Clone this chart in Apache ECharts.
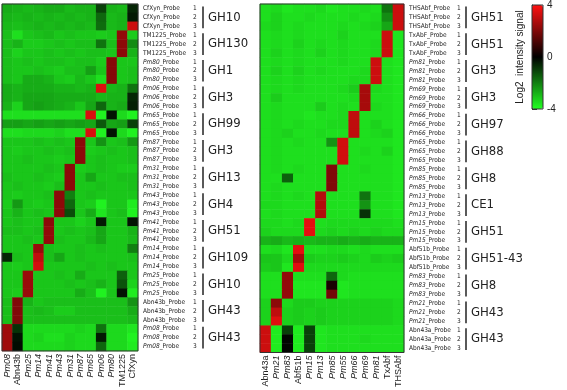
<!DOCTYPE html>
<html>
<head>
<meta charset="utf-8">
<script src="https://cdn.jsdelivr.net/npm/echarts@6/dist/echarts.min.js"></script>
<style>
  html, body { margin: 0; padding: 0; background: #fff; }
  #chart { width: 567px; height: 390px; }
</style>
</head>
<body>
<div id="chart"></div>
<script>
// left panel
const leftCols = ['Pm08', 'Abn43b', 'Pm25', 'Pm14', 'Pm41', 'Pm43', 'Pm31', 'Pm87', 'Pm65', 'Pm06', 'Pm80', 'TM1225', 'CfXyn'];
const leftGroups = ['CfXyn', 'TM1225', 'Pm80', 'Pm06', 'Pm65', 'Pm87', 'Pm31', 'Pm43', 'Pm41', 'Pm14', 'Pm25', 'Abn43b', 'Pm08'];
const leftFamilies = ['GH10', 'GH130', 'GH1', 'GH3', 'GH99', 'GH3', 'GH13', 'GH4', 'GH51', 'GH109', 'GH10', 'GH43', 'GH43'];
const leftValues = [
  [-2.7,-2.8,-2.9,-2.8,-2.7,-2.7,-2.9,-2.8,-2.8,-1.0,-2.8,-2.9,-0.6],
  [-2.8,-2.9,-2.8,-2.9,-2.8,-2.9,-2.8,-2.9,-2.8,-1.6,-2.9,-2.8,-0.4],
  [-2.9,-3.0,-2.9,-2.8,-2.9,-2.8,-2.9,-2.8,-2.9,-1.7,-2.9,-2.8,3.2],
  [-3.0,-3.5,-3.1,-3.0,-2.9,-3.1,-3.0,-3.1,-3.1,-3.2,-3.1,2.3,-3.2],
  [-3.0,-2.8,-3.2,-3.2,-3.1,-3.0,-3.1,-3.0,-3.0,-1.8,-3.0,2.2,-2.2],
  [-3.0,-3.3,-3.1,-3.1,-3.0,-3.1,-3.0,-3.1,-3.0,-3.0,-3.1,2.2,-2.8],
  [-3.0,-3.1,-3.0,-3.1,-3.0,-3.0,-3.1,-3.0,-3.0,-3.2,2.1,-3.1,-3.1],
  [-3.0,-3.1,-3.1,-3.0,-3.1,-3.2,-3.0,-3.0,-2.5,-3.1,2.1,-3.1,-3.0],
  [-3.0,-3.1,-2.7,-2.7,-2.8,-3.1,-3.2,-2.9,-3.1,-3.5,2.1,-3.1,-3.0],
  [-2.7,-2.8,-2.7,-2.7,-2.7,-2.8,-2.8,-2.9,-2.8,3.5,-2.9,-2.8,-1.8],
  [-2.7,-2.8,-2.6,-2.6,-2.6,-2.7,-2.7,-2.7,-2.7,-2.9,-2.8,-2.8,-0.6],
  [-2.8,-3.3,-2.6,-2.5,-2.6,-2.7,-2.8,-3.1,-2.6,-1.6,-2.8,-2.7,-0.5],
  [-3.5,-3.5,-3.5,-3.5,-3.5,-3.5,-3.5,-3.5,3.4,-3.8,-0.3,-3.4,-3.8],
  [-2.5,-2.5,-2.6,-2.5,-2.6,-2.5,-2.6,-2.5,-2.6,-1.4,-2.6,-2.5,-1.0],
  [-3.5,-3.5,-3.4,-3.4,-3.4,-3.3,-3.5,-3.5,3.4,-3.8,-0.3,-3.4,-3.8],
  [-3.1,-3.1,-3.1,-3.0,-3.1,-3.0,-3.1,2.2,-3.1,-2.3,-3.1,-3.0,-2.4],
  [-3.1,-3.2,-3.1,-3.1,-3.0,-3.1,-3.0,2.2,-3.2,-3.1,-3.0,-3.1,-3.0],
  [-3.1,-3.1,-3.0,-3.1,-3.1,-3.2,-3.1,2.2,-3.1,-3.0,-3.1,-3.1,-3.0],
  [-3.1,-3.1,-3.1,-3.1,-3.0,-3.1,2.2,-3.2,-3.1,-3.0,-3.1,-3.2,-3.2],
  [-3.0,-3.1,-3.1,-3.0,-3.1,-3.2,2.2,-3.1,-2.6,-3.1,-3.1,-3.0,-3.0],
  [-3.1,-3.0,-3.1,-3.1,-3.2,-3.0,2.2,-3.1,-3.1,-3.0,-3.1,-3.1,-3.0],
  [-3.1,-3.2,-3.1,-3.1,-3.0,2.2,-2.0,-3.1,-3.0,-3.1,-3.1,-3.1,-3.1],
  [-3.2,-2.4,-3.1,-3.2,-3.1,2.2,-1.6,-3.1,-3.2,-3.8,-3.1,-3.1,-3.7],
  [-3.1,-2.8,-3.1,-3.0,-3.1,2.2,-1.2,-3.1,-2.7,-3.6,-3.1,-3.0,-3.8],
  [-3.1,-3.0,-3.1,-3.1,2.2,-3.1,-3.1,-3.3,-3.1,-0.4,-3.1,-3.1,-0.3],
  [-3.0,-3.0,-3.1,-3.0,2.3,-3.1,-3.0,-3.1,-3.0,-2.6,-3.1,-3.1,-2.8],
  [-3.1,-3.1,-3.0,-3.1,2.3,-3.0,-3.1,-3.1,-2.9,-2.6,-3.1,-3.1,-2.9],
  [-3.1,-3.1,-3.1,2.4,-3.0,-3.1,-3.1,-3.0,-3.1,-3.0,-3.1,-3.1,-2.0],
  [-0.6,-3.0,-3.1,3.0,-3.0,-2.6,-3.1,-3.0,-3.1,-3.1,-3.1,-3.1,-3.0],
  [-3.1,-3.2,-3.1,3.3,-3.1,-3.1,-3.1,-3.1,-3.0,-3.1,-3.0,-3.1,-3.1],
  [-3.1,-3.1,2.4,-3.1,-3.1,-3.0,-3.1,-2.7,-3.1,-3.1,-3.1,-1.5,-3.1],
  [-3.1,-3.1,2.4,-3.1,-3.1,-3.1,-3.0,-3.1,-3.0,-2.8,-3.1,-1.3,-3.3],
  [-3.1,-3.2,2.4,-3.1,-3.1,-3.1,-3.1,-2.7,-3.0,-3.8,-3.1,-0.3,-3.7],
  [-3.0,2.0,-2.8,-3.1,-3.0,-3.0,-3.0,-3.0,-3.0,-3.0,-3.0,-3.0,-2.3],
  [-3.0,2.0,-3.0,-2.9,-3.0,-3.2,-3.2,-3.0,-3.0,-3.0,-3.0,-3.0,-2.7],
  [-3.0,2.0,-3.0,-3.0,-3.0,-3.0,-3.0,-3.0,-3.0,-3.0,-3.0,-3.0,-2.9],
  [2.5,-0.8,-3.4,-3.4,-3.4,-3.4,-3.4,-3.3,-3.4,-1.8,-3.4,-3.4,-3.6],
  [2.5,-0.3,-3.4,-3.3,-3.5,-3.5,-3.3,-3.4,-3.4,-0.4,-3.4,-3.4,-3.8],
  [2.5,-0.2,-3.4,-3.4,-3.4,-3.4,-3.3,-3.4,-3.4,-1.6,-3.4,-3.4,-3.7]
];

// right panel
const rightCols = ['Abn43a', 'Pm21', 'Pm83', 'Abf51b', 'Pm15', 'Pm13', 'Pm85', 'Pm55', 'Pm66', 'Pm69', 'Pm81', 'TxAbf', 'THSAbf'];
const rightGroups = ['THSAbf', 'TxAbF', 'Pm81', 'Pm69', 'Pm66', 'Pm65', 'Pm85', 'Pm13', 'Pm15', 'Abf51b', 'Pm83', 'Pm21', 'Abn43a'];
const rightFamilies = ['GH51', 'GH51', 'GH3', 'GH3', 'GH97', 'GH88', 'GH8', 'CE1', 'GH51', 'GH51-43', 'GH8', 'GH43', 'GH43'];
const rightValues = [
  [-3.5,-3.4,-3.6,-3.5,-3.5,-3.4,-3.6,-3.5,-3.5,-3.4,-3.5,-1.8,3.2],
  [-3.5,-3.3,-3.5,-3.5,-3.4,-3.5,-3.5,-3.5,-3.4,-3.5,-3.4,-2.2,3.2],
  [-3.4,-3.3,-3.5,-3.4,-3.5,-3.5,-3.5,-3.4,-3.5,-3.4,-3.3,-2.6,3.2],
  [-3.5,-3.4,-3.5,-3.4,-3.5,-3.5,-3.5,-3.3,-3.5,-3.5,-3.5,3.2,-3.6],
  [-3.5,-3.4,-3.5,-3.3,-3.5,-3.4,-3.5,-3.4,-3.5,-3.5,-3.4,3.2,-3.6],
  [-3.5,-3.3,-3.5,-3.4,-3.5,-3.3,-3.5,-3.4,-3.5,-3.5,-3.4,3.2,-3.6],
  [-3.5,-3.4,-3.5,-3.4,-3.5,-3.5,-3.5,-3.4,-3.5,-3.5,3.2,-3.5,-3.6],
  [-3.5,-3.3,-3.5,-3.3,-3.5,-3.4,-3.5,-3.5,-3.5,-3.4,3.2,-3.5,-3.6],
  [-3.5,-3.4,-3.5,-3.4,-3.5,-3.5,-3.5,-3.5,-3.4,-3.4,3.2,-3.5,-3.6],
  [-3.5,-3.4,-3.5,-3.4,-3.5,-3.5,-3.5,-3.4,-3.2,2.6,-3.4,-3.5,-3.6],
  [-3.5,-3.2,-3.5,-3.5,-3.5,-3.5,-3.5,-3.5,-3.4,2.6,-3.5,-3.5,-3.6],
  [-3.5,-3.4,-3.5,-3.5,-3.5,-3.2,-3.5,-3.4,-3.5,2.6,-3.4,-3.5,-3.6],
  [-3.5,-3.4,-3.5,-3.5,-3.6,-3.5,-3.5,-3.4,3.0,-3.5,-3.5,-3.5,-3.6],
  [-3.5,-3.4,-3.5,-3.4,-3.5,-3.5,-3.4,-3.4,3.0,-3.5,-3.3,-3.5,-3.6],
  [-3.5,-3.4,-3.3,-3.5,-3.5,-3.4,-3.5,-3.5,3.0,-3.5,-3.4,-3.3,-3.6],
  [-3.5,-3.4,-3.5,-3.4,-3.5,-3.5,-2.3,3.3,-3.5,-3.5,-3.5,-3.5,-3.6],
  [-3.5,-3.4,-3.5,-3.5,-3.5,-3.5,-3.5,3.3,-3.5,-3.4,-3.5,-3.3,-3.6],
  [-3.5,-3.4,-3.5,-3.5,-3.5,-3.5,-3.5,3.3,-3.5,-3.5,-3.5,-3.5,-3.6],
  [-3.5,-3.4,-3.5,-3.4,-3.5,-3.5,2.0,-3.5,-3.5,-3.4,-3.5,-3.5,-3.6],
  [-3.5,-3.5,-1.5,-3.5,-3.5,-3.5,2.0,-3.5,-3.5,-3.5,-3.5,-3.5,-3.6],
  [-3.5,-3.4,-3.5,-3.5,-3.5,-3.5,2.0,-3.5,-3.5,-3.5,-3.5,-3.5,-3.6],
  [-3.5,-3.4,-3.5,-3.4,-3.5,2.8,-3.5,-3.5,-3.5,-1.8,-3.5,-3.5,-3.6],
  [-3.4,-3.4,-3.5,-3.5,-3.5,2.8,-3.5,-3.5,-3.5,-2.3,-3.5,-3.5,-3.6],
  [-3.5,-3.4,-3.5,-3.5,-3.5,2.8,-3.5,-3.5,-3.5,-0.8,-3.5,-3.5,-3.6],
  [-3.4,-3.4,-3.5,-3.4,3.6,-3.5,-3.4,-3.4,-3.4,-3.4,-3.4,-3.4,-3.5],
  [-3.3,-3.4,-3.4,-3.4,3.6,-3.4,-3.3,-3.4,-3.3,-3.4,-3.3,-3.4,-3.4],
  [-2.8,-2.7,-2.9,-2.8,-2.9,-2.8,-2.8,-2.7,-2.8,-2.7,-2.8,-2.8,-2.8],
  [-3.5,-3.4,-3.6,3.6,-3.5,-3.5,-3.4,-3.4,-3.5,-3.4,-3.5,-3.5,-3.5],
  [-3.1,-3.1,-3.4,2.6,-3.2,-3.3,-3.3,-3.2,-3.3,-3.4,-3.2,-3.3,-3.2],
  [-3.2,-3.1,-3.6,3.5,-3.4,-3.4,-3.4,-3.4,-3.4,-3.4,-3.4,-3.4,-3.4],
  [-3.5,-3.5,2.3,-3.5,-3.5,-3.5,-1.6,-3.4,-3.5,-3.5,-3.5,-3.5,-3.5],
  [-3.5,-3.5,2.3,-3.6,-3.6,-3.6,0.4,-3.6,-3.5,-3.5,-3.5,-3.5,-3.5],
  [-3.5,-3.5,2.3,-3.6,-3.6,-3.6,1.8,-3.6,-3.5,-3.5,-3.5,-3.5,-3.5],
  [-3.3,2.2,-3.4,-3.2,-3.2,-3.3,-3.3,-3.3,-3.3,-3.3,-3.3,-3.3,-3.4],
  [-3.3,3.0,-3.3,-3.2,-3.3,-3.2,-3.3,-3.3,-3.3,-3.3,-3.3,-3.3,-3.4],
  [-3.3,3.5,-3.3,-3.2,-3.3,-3.2,-3.3,-3.3,-3.3,-3.3,-3.3,-3.3,-3.4],
  [3.2,-3.7,-1.0,-3.7,-1.0,-3.6,-3.5,-3.5,-3.5,-3.5,-3.5,-3.5,-3.5],
  [3.2,-3.7,-0.1,-3.7,-1.0,-3.6,-3.5,-3.5,-3.5,-3.4,-3.5,-3.5,-3.5],
  [3.2,-3.7,-0.1,-3.7,-1.0,-3.6,-3.5,-3.5,-3.5,-3.5,-3.5,-3.5,-3.5]
];

const colorStops = ['#22ff22', '#000000', '#ff1111'];
const scaleTicks = [-4, 0, 4];

const FONT = "'Liberation Sans', Arial, sans-serif";
const NARROW = "'Liberation Sans Narrow', 'DejaVu Sans Condensed', 'Liberation Sans', sans-serif";
const TEXT = '#222';

function probeRows(groups) {
  const rows = [];
  groups.forEach((g) => { for (let k = 1; k <= 3; k++) rows.push(g + '_Probe ' + k); });
  return rows;
}

function cells(values) {
  const out = [];
  values.forEach((row, r) => row.forEach((v, c) => out.push([c, r, v])));
  return out;
}

const isPm = (s) => /^Pm/.test(s);

const probeRich = {
  i: { fontStyle: 'italic', fontSize: 6.5, fontFamily: NARROW, color: TEXT },
  n: { fontSize: 6.5, fontFamily: NARROW, color: TEXT }
};
const colRich = {
  i: { fontStyle: 'italic', fontSize: 9, fontFamily: FONT, color: TEXT },
  n: { fontSize: 9, fontFamily: FONT, color: TEXT }
};

function probeName(v) {
  const name = v.split('_Probe')[0];
  return isPm(name) ? '{i|' + name + '}{n|_Probe}' : '{n|' + name + '_Probe}';
}
function colName(v) {
  return isPm(v) ? '{i|' + v + '}' : '{n|' + v + '}';
}

// vertical bar + family label for each group of three probes
function bracketSeries(gridIdx, families, gap) {
  return {
    type: 'custom',
    coordinateSystem: 'cartesian2d',
    xAxisIndex: gridIdx,
    yAxisIndex: gridIdx * 2,
    clip: false,
    silent: true,
    data: families.map((f, i) => [12, i * 3 + 1]),
    renderItem: function (params, api) {
      const p = api.coord([api.value(0), api.value(1)]);
      const s = api.size([1, 1]);
      const x = p[0] + s[0] / 2 + gap;
      return {
        type: 'group',
        children: [
          {
            type: 'line',
            shape: { x1: x, y1: p[1] - 1.5 * s[1] + 2.5, x2: x, y2: p[1] + 1.5 * s[1] - 2.5 },
            style: { stroke: '#222', lineWidth: 1.5 }
          },
          {
            type: 'text',
            style: {
              text: families[params.dataIndex],
              x: x + 5, y: p[1],
              verticalAlign: 'middle', align: 'left',
              font: '13px ' + NARROW, fill: TEXT
            }
          }
        ]
      };
    }
  };
}

const leftRows = probeRows(leftGroups);
const rightRows = probeRows(rightGroups);

const chart = echarts.init(document.getElementById('chart'), null, { renderer: 'canvas' });

function heatX(gridIndex, cols) {
  return {
    type: 'category', gridIndex: gridIndex, data: cols, position: 'bottom',
    axisLine: { show: false }, axisTick: { show: false }, splitArea: { show: false },
    axisLabel: { rotate: 90, margin: 3, interval: 0, formatter: colName, rich: colRich }
  };
}
function heatY(gridIndex, rows, digitOffset) {
  return [
    {
      type: 'category', gridIndex: gridIndex, data: rows, inverse: true, position: 'right',
      axisLine: { show: false }, axisTick: { show: false },
      axisLabel: { margin: 5, interval: 0, formatter: probeName, rich: probeRich }
    },
    {
      type: 'category', gridIndex: gridIndex, data: rows, inverse: true, position: 'right', offset: digitOffset,
      axisLine: { show: false }, axisTick: { show: false },
      axisLabel: { margin: 5, interval: 0, fontSize: 6.5, fontFamily: NARROW, color: TEXT,
        formatter: (v) => v.slice(-1) }
    }
  ];
}

const option = {
  backgroundColor: '#fff',
  animation: false,
  grid: [
    { left: 2, top: 4, width: 136, height: 349, show: true, z: 10, backgroundColor: 'transparent', borderColor: '#333', borderWidth: 1 },
    { left: 260, top: 4, width: 144, height: 349, show: true, z: 10, backgroundColor: 'transparent', borderColor: '#333', borderWidth: 1 },
    { left: 532, top: 5, width: 11, height: 104, show: true, z: 10, backgroundColor: 'transparent', borderColor: '#333', borderWidth: 1 }
  ],
  xAxis: [
    heatX(0, leftCols),
    heatX(1, rightCols),
    { type: 'value', gridIndex: 2, show: false, min: 0, max: 1 }
  ],
  yAxis: [
    ...heatY(0, leftRows, 50),
    ...heatY(1, rightRows, 48),
    {
      type: 'value', gridIndex: 2, position: 'right', min: scaleTicks[0], max: scaleTicks[2], interval: 4,
      axisLine: { show: true, lineStyle: { color: '#333' } },
      axisTick: { show: true, length: 5, lineStyle: { color: '#333' } },
      splitLine: { show: false },
      axisLabel: { margin: 4, fontSize: 10, fontFamily: FONT, color: TEXT }
    },
    {
      type: 'value', gridIndex: 2, position: 'left', min: -4, max: 4,
      axisLine: { show: false }, axisTick: { show: false }, axisLabel: { show: false }, splitLine: { show: false },
      name: 'Log2  intensity signal', nameLocation: 'middle', nameRotate: 90, nameGap: 7,
      nameTextStyle: { fontSize: 10, fontFamily: FONT, color: TEXT }
    }
  ],
  visualMap: {
    type: 'continuous', min: -4, max: 4, calculable: false, orient: 'vertical',
    left: 532, top: 5, itemWidth: 11, itemHeight: 104, padding: 0,
    seriesIndex: [0, 1],
    inRange: { color: colorStops }
  },
  series: [
    { type: 'heatmap', xAxisIndex: 0, yAxisIndex: 0, data: cells(leftValues), itemStyle: { borderWidth: 0 } },
    { type: 'heatmap', xAxisIndex: 1, yAxisIndex: 2, data: cells(rightValues), itemStyle: { borderWidth: 0 } },
    bracketSeries(0, leftFamilies, 65),
    bracketSeries(1, rightFamilies, 62)
  ]
};

chart.setOption(option);
</script>
</body>
</html>
